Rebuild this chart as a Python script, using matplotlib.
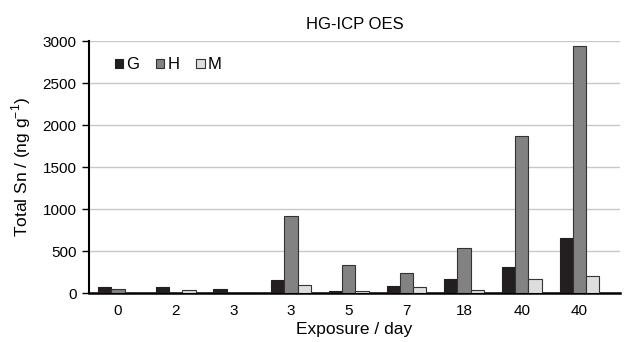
import matplotlib
matplotlib.use("Agg")
import matplotlib.pyplot as plt
import numpy as np

plt.rcParams["font.family"] = ["Liberation Sans", "DejaVu Sans"]

days = ["0", "2", "3", "3", "5", "7", "18", "40", "40"]
g_vals = [71, 70, 50, 150, 30, 80, 167, 310, 658]
h_vals = [45, 0, 0, 913, 333, 238, 540, 1872, 2940]
m_vals = [0, 40, 5, 100, 30, 68, 40, 163, 199]

fig = plt.figure(figsize=(6.28, 3.42), dpi=100)
ax = fig.add_axes([0.142, 0.143, 0.845, 0.737])

x = np.arange(len(days))
w = 0.23
ax.bar(x - w, g_vals, w, color="#231f20", edgecolor="#231f20", linewidth=0.8, label="G", zorder=3)
ax.bar(x, h_vals, w, color="#828282", edgecolor="#333333", linewidth=0.8, label="H", zorder=3)
ax.bar(x + w, m_vals, w, color="#dedede", edgecolor="#333333", linewidth=0.8, label="M", zorder=3)

ax.set_xlim(-0.5, 8.7)
ax.set_ylim(0, 3000)
ax.set_yticks(range(0, 3001, 500))
ax.set_xticks(x)
ax.set_xticklabels(days)
ax.grid(axis="y", color="#c8c8c8", linewidth=1, zorder=0)

for s in ["top", "right"]:
    ax.spines[s].set_visible(False)
ax.spines["left"].set_linewidth(1.5)
ax.spines["bottom"].set_linewidth(1.8)
ax.tick_params(axis="x", length=0, labelsize=11, pad=8)
ax.tick_params(axis="y", length=5, width=1, labelsize=11, pad=4)

ax.set_xlabel("Exposure / day", fontsize=12.5, labelpad=3)
ax.set_ylabel("Total Sn / (ng g$^{\\mathregular{-1}}$)", fontsize=12.5, labelpad=7)
ax.set_title("HG-ICP OES", fontsize=12, pad=9)

ax.legend(loc="upper left", ncol=3, frameon=False, fontsize=12,
          handlelength=0.5, handleheight=0.5, handletextpad=0.2,
          columnspacing=1.0, bbox_to_anchor=(0.02, 0.995))

fig.savefig("out.png", dpi=100)
